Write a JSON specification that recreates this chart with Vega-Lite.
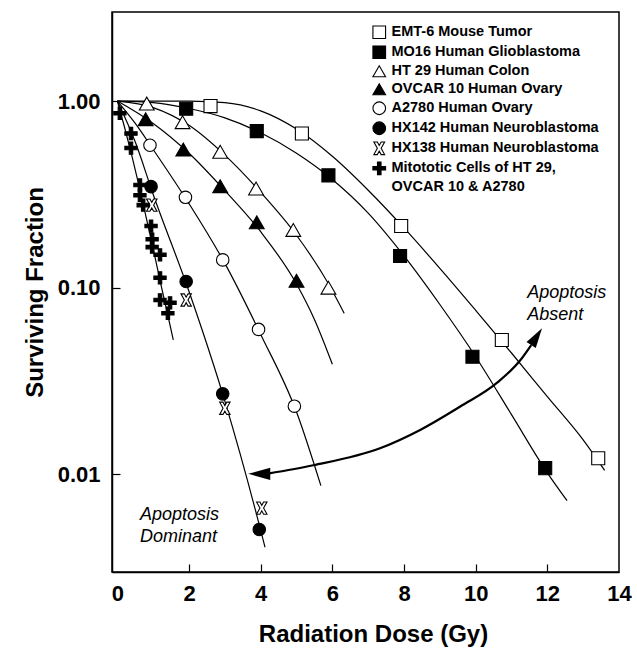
{
  "$schema": "https://vega.github.io/schema/vega-lite/v6.json",
  "width": 507,
  "height": 560,
  "autosize": {"type": "none"},
  "padding": {"left": 112, "top": 12, "right": 18, "bottom": 76},
  "background": "white",
  "config": {
    "font": "Liberation Sans",
    "view": {"stroke": "black", "strokeWidth": 1.5},
    "axis": {
      "grid": false,
      "domainColor": "black",
      "domainWidth": 1.5,
      "tickColor": "black",
      "tickWidth": 1.2,
      "labelColor": "black",
      "titleColor": "black",
      "labelFont": "Liberation Sans",
      "labelFontWeight": "bold",
      "labelFontSize": 22,
      "titleFont": "Liberation Sans",
      "titleFontWeight": "bold",
      "titleFontSize": 24
    },
    "legend": {
      "title": null,
      "orient": "none",
      "legendX": 260,
      "legendY": 13,
      "padding": 0,
      "symbolSize": 160,
      "symbolStrokeWidth": 1.1,
      "labelFont": "Liberation Sans",
      "labelFontWeight": "bold",
      "labelFontSize": 14.5,
      "labelColor": "black",
      "labelOffset": 5,
      "labelLimit": 300,
      "rowPadding": 2
    }
  },
  "datasets": {
    "points": [
      {"series": "EMT-6 Mouse Tumor", "dose": 2.6, "sf": 0.94},
      {"series": "EMT-6 Mouse Tumor", "dose": 5.15, "sf": 0.67},
      {"series": "EMT-6 Mouse Tumor", "dose": 7.92, "sf": 0.214},
      {"series": "EMT-6 Mouse Tumor", "dose": 10.73, "sf": 0.0525},
      {"series": "EMT-6 Mouse Tumor", "dose": 13.42, "sf": 0.0122},
      {"series": "MO16 Human Glioblastoma", "dose": 1.92, "sf": 0.91},
      {"series": "MO16 Human Glioblastoma", "dose": 3.89, "sf": 0.69},
      {"series": "MO16 Human Glioblastoma", "dose": 5.89, "sf": 0.4},
      {"series": "MO16 Human Glioblastoma", "dose": 7.89, "sf": 0.148},
      {"series": "MO16 Human Glioblastoma", "dose": 9.91, "sf": 0.0427},
      {"series": "MO16 Human Glioblastoma", "dose": 11.94, "sf": 0.0108},
      {"series": "HT 29 Human Colon", "dose": 0.82, "sf": 0.97},
      {"series": "HT 29 Human Colon", "dose": 1.82, "sf": 0.77},
      {"series": "HT 29 Human Colon", "dose": 2.87, "sf": 0.535},
      {"series": "HT 29 Human Colon", "dose": 3.87, "sf": 0.34},
      {"series": "HT 29 Human Colon", "dose": 4.91, "sf": 0.204},
      {"series": "HT 29 Human Colon", "dose": 5.89, "sf": 0.1},
      {"series": "OVCAR 10 Human Ovary", "dose": 0.79, "sf": 0.8},
      {"series": "OVCAR 10 Human Ovary", "dose": 1.84, "sf": 0.55},
      {"series": "OVCAR 10 Human Ovary", "dose": 2.87, "sf": 0.35},
      {"series": "OVCAR 10 Human Ovary", "dose": 3.89, "sf": 0.224},
      {"series": "OVCAR 10 Human Ovary", "dose": 5.0, "sf": 0.109},
      {"series": "A2780 Human Ovary", "dose": 0.91, "sf": 0.58},
      {"series": "A2780 Human Ovary", "dose": 1.9, "sf": 0.305},
      {"series": "A2780 Human Ovary", "dose": 2.94, "sf": 0.141},
      {"series": "A2780 Human Ovary", "dose": 3.94, "sf": 0.0598},
      {"series": "A2780 Human Ovary", "dose": 4.94, "sf": 0.0232},
      {"series": "HX142 Human Neuroblastoma", "dose": 0.94, "sf": 0.348},
      {"series": "HX142 Human Neuroblastoma", "dose": 1.92, "sf": 0.108},
      {"series": "HX142 Human Neuroblastoma", "dose": 2.94, "sf": 0.027},
      {"series": "HX142 Human Neuroblastoma", "dose": 3.96, "sf": 0.00507},
      {"series": "HX138 Human Neuroblastoma", "dose": 0.96, "sf": 0.277},
      {"series": "HX138 Human Neuroblastoma", "dose": 1.92, "sf": 0.086},
      {"series": "HX138 Human Neuroblastoma", "dose": 3.0, "sf": 0.0226},
      {"series": "HX138 Human Neuroblastoma", "dose": 4.03, "sf": 0.0066},
      {"series": "Mitotic", "dose": 0.07, "sf": 0.86},
      {"series": "Mitotic", "dose": 0.38, "sf": 0.67},
      {"series": "Mitotic", "dose": 0.38, "sf": 0.56},
      {"series": "Mitotic", "dose": 0.63, "sf": 0.355},
      {"series": "Mitotic", "dose": 0.63, "sf": 0.313},
      {"series": "Mitotic", "dose": 0.72, "sf": 0.277},
      {"series": "Mitotic", "dose": 0.94, "sf": 0.214},
      {"series": "Mitotic", "dose": 0.97, "sf": 0.182},
      {"series": "Mitotic", "dose": 0.97, "sf": 0.165},
      {"series": "Mitotic", "dose": 1.19, "sf": 0.15},
      {"series": "Mitotic", "dose": 1.19, "sf": 0.113},
      {"series": "Mitotic", "dose": 1.19, "sf": 0.086},
      {"series": "Mitotic", "dose": 1.47, "sf": 0.083},
      {"series": "Mitotic", "dose": 1.41, "sf": 0.073}
    ],
    "curves": [
      {"curve": "EMT-6", "dose": 0, "sf": 1},
      {"curve": "EMT-6", "dose": 1, "sf": 1},
      {"curve": "EMT-6", "dose": 2, "sf": 0.999},
      {"curve": "EMT-6", "dose": 3, "sf": 0.98},
      {"curve": "EMT-6", "dose": 4, "sf": 0.886},
      {"curve": "EMT-6", "dose": 5, "sf": 0.708},
      {"curve": "EMT-6", "dose": 6, "sf": 0.506},
      {"curve": "EMT-6", "dose": 7, "sf": 0.333},
      {"curve": "EMT-6", "dose": 8, "sf": 0.209},
      {"curve": "EMT-6", "dose": 9, "sf": 0.127},
      {"curve": "EMT-6", "dose": 10, "sf": 0.0757},
      {"curve": "EMT-6", "dose": 11, "sf": 0.0447},
      {"curve": "EMT-6", "dose": 12, "sf": 0.0261},
      {"curve": "EMT-6", "dose": 13, "sf": 0.0153},
      {"curve": "EMT-6", "dose": 13.6, "sf": 0.0105},
      {"curve": "MO16", "dose": 0, "sf": 1},
      {"curve": "MO16", "dose": 1, "sf": 0.982},
      {"curve": "MO16", "dose": 2, "sf": 0.912},
      {"curve": "MO16", "dose": 3, "sf": 0.813},
      {"curve": "MO16", "dose": 4, "sf": 0.676},
      {"curve": "MO16", "dose": 5, "sf": 0.525},
      {"curve": "MO16", "dose": 6, "sf": 0.38},
      {"curve": "MO16", "dose": 7, "sf": 0.251},
      {"curve": "MO16", "dose": 8, "sf": 0.148},
      {"curve": "MO16", "dose": 9, "sf": 0.0813},
      {"curve": "MO16", "dose": 10, "sf": 0.0427},
      {"curve": "MO16", "dose": 11, "sf": 0.0209},
      {"curve": "MO16", "dose": 12, "sf": 0.0102},
      {"curve": "MO16", "dose": 12.55, "sf": 0.00724},
      {"curve": "HT29", "dose": 0, "sf": 1},
      {"curve": "HT29", "dose": 1, "sf": 0.923},
      {"curve": "HT29", "dose": 2, "sf": 0.741},
      {"curve": "HT29", "dose": 3, "sf": 0.513},
      {"curve": "HT29", "dose": 4, "sf": 0.324},
      {"curve": "HT29", "dose": 5, "sf": 0.191},
      {"curve": "HT29", "dose": 5.89, "sf": 0.105},
      {"curve": "HT29", "dose": 6.33, "sf": 0.0729},
      {"curve": "OVCAR10", "dose": 0, "sf": 1},
      {"curve": "OVCAR10", "dose": 1, "sf": 0.759},
      {"curve": "OVCAR10", "dose": 2, "sf": 0.525},
      {"curve": "OVCAR10", "dose": 3, "sf": 0.331},
      {"curve": "OVCAR10", "dose": 4, "sf": 0.1995},
      {"curve": "OVCAR10", "dose": 5, "sf": 0.1047},
      {"curve": "OVCAR10", "dose": 5.5, "sf": 0.0676},
      {"curve": "OVCAR10", "dose": 6, "sf": 0.0389},
      {"curve": "A2780", "dose": 0, "sf": 1},
      {"curve": "A2780", "dose": 0.5, "sf": 0.759},
      {"curve": "A2780", "dose": 1, "sf": 0.55},
      {"curve": "A2780", "dose": 2, "sf": 0.282},
      {"curve": "A2780", "dose": 3, "sf": 0.135},
      {"curve": "A2780", "dose": 4, "sf": 0.0562},
      {"curve": "A2780", "dose": 5, "sf": 0.0216},
      {"curve": "A2780", "dose": 5.68, "sf": 0.0087},
      {"curve": "HX", "dose": 0, "sf": 1},
      {"curve": "HX", "dose": 0.5, "sf": 0.603},
      {"curve": "HX", "dose": 1, "sf": 0.316},
      {"curve": "HX", "dose": 2, "sf": 0.0955},
      {"curve": "HX", "dose": 3, "sf": 0.0247},
      {"curve": "HX", "dose": 4, "sf": 0.00501},
      {"curve": "HX", "dose": 4.12, "sf": 0.00407},
      {"curve": "Mitotic", "dose": 0, "sf": 1},
      {"curve": "Mitotic", "dose": 0.2, "sf": 0.724},
      {"curve": "Mitotic", "dose": 0.4, "sf": 0.513},
      {"curve": "Mitotic", "dose": 0.6, "sf": 0.355},
      {"curve": "Mitotic", "dose": 0.8, "sf": 0.24},
      {"curve": "Mitotic", "dose": 1.0, "sf": 0.162},
      {"curve": "Mitotic", "dose": 1.2, "sf": 0.107},
      {"curve": "Mitotic", "dose": 1.4, "sf": 0.0724},
      {"curve": "Mitotic", "dose": 1.56, "sf": 0.0525}
    ],
    "arrow": [
      {"dose": 4.2, "sf": 0.0101},
      {"dose": 5.47, "sf": 0.0112},
      {"dose": 7.33, "sf": 0.0138},
      {"dose": 8.45, "sf": 0.0173},
      {"dose": 9.57, "sf": 0.0231},
      {"dose": 10.6, "sf": 0.031},
      {"dose": 11.25, "sf": 0.041},
      {"dose": 11.55, "sf": 0.0493}
    ],
    "heads": [
      {"end": "left", "dose": 3.96, "sf": 0.01007},
      {"end": "right", "dose": 11.7, "sf": 0.0547}
    ],
    "notes": [
      {"note": "Apoptosis\nAbsent", "dose": 11.44, "sf": 0.0881},
      {"note": "Apoptosis\nDominant", "dose": 0.63, "sf": 0.0057}
    ]
  },
  "layer": [
    {
      "data": {"name": "curves"},
      "mark": {"type": "line", "color": "black", "strokeWidth": 1.2, "interpolate": "monotone"},
      "encoding": {
        "x": {
          "field": "dose", "type": "quantitative",
          "scale": {"domain": [-0.15, 14], "nice": false, "zero": false},
          "axis": {
            "title": "Radiation Dose (Gy)",
            "values": [0, 2, 4, 6, 8, 10, 12, 14],
            "tickSize": -8,
            "labelPadding": 19,
            "labelFlush": false,
            "labelOverlap": false,
            "tickOpacity": {"condition": {"test": "datum.value == 0 || datum.value == 14", "value": 0}, "value": 1},
            "titlePadding": 18,
            "titleX": 261
          }
        },
        "y": {
          "field": "sf", "type": "quantitative",
          "scale": {"type": "log", "domain": [0.003, 3], "nice": false},
          "axis": {
            "title": "Surviving Fraction",
            "values": [0.01, 0.1, 1],
            "format": ".2f",
            "tickSize": -8,
            "labelPadding": 20,
            "labelOverlap": false,
            "titlePadding": 10
          }
        },
        "detail": {"field": "curve", "type": "nominal"}
      }
    },
    {
      "data": {"name": "arrow"},
      "mark": {"type": "line", "color": "black", "strokeWidth": 2.2, "interpolate": "monotone"},
      "encoding": {
        "x": {"field": "dose", "type": "quantitative"},
        "y": {"field": "sf", "type": "quantitative"}
      }
    },
    {
      "data": {"name": "heads"},
      "transform": [{"filter": "datum.end == 'left'"}],
      "mark": {"type": "point", "shape": "M-1,0L1,-0.55L1,0.55Z", "filled": true, "color": "black", "opacity": 1, "size": 484, "angle": 0},
      "encoding": {
        "x": {"field": "dose", "type": "quantitative"},
        "y": {"field": "sf", "type": "quantitative"}
      }
    },
    {
      "data": {"name": "heads"},
      "transform": [{"filter": "datum.end == 'right'"}],
      "mark": {"type": "point", "shape": "M-1,0L1,-0.55L1,0.55Z", "filled": true, "color": "black", "opacity": 1, "size": 400, "angle": 123},
      "encoding": {
        "x": {"field": "dose", "type": "quantitative"},
        "y": {"field": "sf", "type": "quantitative"}
      }
    },
    {
      "data": {"name": "notes"},
      "mark": {"type": "text", "font": "Liberation Sans", "fontStyle": "italic", "fontSize": 18, "align": "left", "baseline": "alphabetic", "lineBreak": "\n", "lineHeight": 22, "color": "black"},
      "encoding": {
        "x": {"field": "dose", "type": "quantitative"},
        "y": {"field": "sf", "type": "quantitative"},
        "text": {"field": "note", "type": "nominal"}
      }
    },
    {
      "data": {"name": "points"},
      "mark": {"type": "point", "filled": true, "strokeWidth": 1.1, "opacity": 1},
      "encoding": {
        "x": {"field": "dose", "type": "quantitative"},
        "y": {"field": "sf", "type": "quantitative"},
        "shape": {
          "field": "series", "type": "nominal",
          "scale": {
            "domain": ["EMT-6 Mouse Tumor", "MO16 Human Glioblastoma", "HT 29 Human Colon", "OVCAR 10 Human Ovary", "A2780 Human Ovary", "HX142 Human Neuroblastoma", "HX138 Human Neuroblastoma", "Mitotic", "cont"],
            "range": ["square", "square", "triangle-up", "triangle-up", "circle", "circle", "M-0.85,-1H-0.3L0,-0.45L0.3,-1H0.85L0.3,0L0.85,1H0.3L0,0.45L-0.3,1H-0.85L-0.3,0Z", "M-1,-0.28H-0.28V-1H0.28V-0.28H1V0.28H0.28V1H-0.28V0.28H-1Z", "M0,0L0,0"]
          },
          "legend": {
            "labelExpr": "datum.value == 'Mitotic' ? 'Mitototic Cells of HT 29,' : datum.value == 'cont' ? '\u00a0\u00a0\u00a0\u00a0\u00a0OVCAR 10 & A2780' : datum.label"
          }
        },
        "fill": {
          "field": "series", "type": "nominal",
          "scale": {
            "domain": ["EMT-6 Mouse Tumor", "MO16 Human Glioblastoma", "HT 29 Human Colon", "OVCAR 10 Human Ovary", "A2780 Human Ovary", "HX142 Human Neuroblastoma", "HX138 Human Neuroblastoma", "Mitotic", "cont"],
            "range": ["white", "black", "white", "black", "white", "black", "white", "black", "transparent"]
          },
          "legend": {
            "labelExpr": "datum.value == 'Mitotic' ? 'Mitototic Cells of HT 29,' : datum.value == 'cont' ? '\u00a0\u00a0\u00a0\u00a0\u00a0OVCAR 10 & A2780' : datum.label"
          }
        },
        "stroke": {
          "field": "series", "type": "nominal",
          "scale": {
            "domain": ["EMT-6 Mouse Tumor", "MO16 Human Glioblastoma", "HT 29 Human Colon", "OVCAR 10 Human Ovary", "A2780 Human Ovary", "HX142 Human Neuroblastoma", "HX138 Human Neuroblastoma", "Mitotic", "cont"],
            "range": ["black", "black", "black", "black", "black", "black", "black", "black", "transparent"]
          },
          "legend": {
            "labelExpr": "datum.value == 'Mitotic' ? 'Mitototic Cells of HT 29,' : datum.value == 'cont' ? '\u00a0\u00a0\u00a0\u00a0\u00a0OVCAR 10 & A2780' : datum.label"
          }
        },
        "size": {
          "field": "series", "type": "nominal",
          "scale": {
            "type": "ordinal",
            "domain": ["cont", "Mitotic", "HX138 Human Neuroblastoma", "HX142 Human Neuroblastoma", "A2780 Human Ovary", "OVCAR 10 Human Ovary", "HT 29 Human Colon", "MO16 Human Glioblastoma", "EMT-6 Mouse Tumor"],
            "range": [0, 150, 150, 156, 156, 220, 220, 170, 170]
          },
          "legend": null
        }
      }
    }
  ]
}
